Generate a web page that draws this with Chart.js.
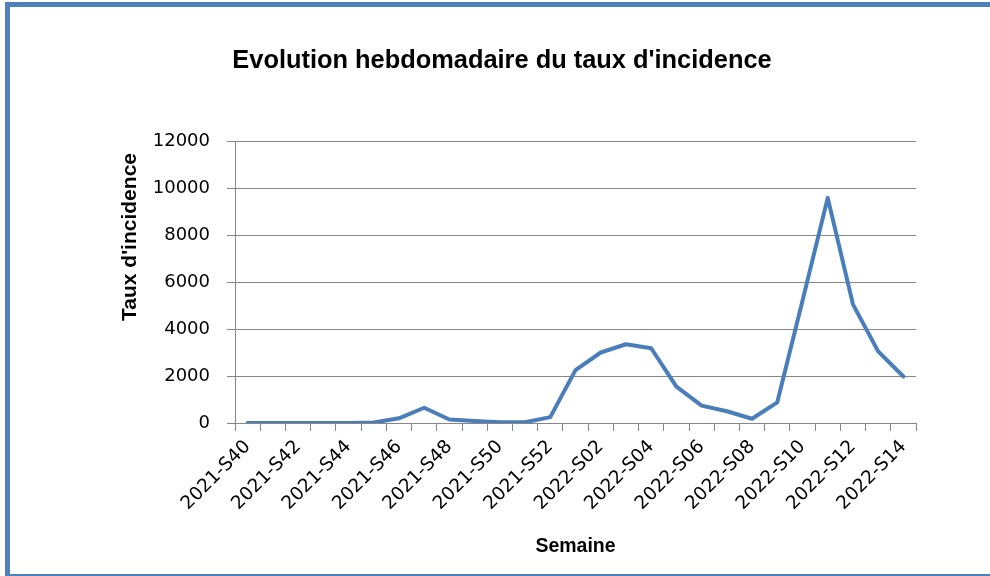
<!DOCTYPE html>
<html>
<head>
<meta charset="utf-8">
<script src="https://cdn.jsdelivr.net/npm/chart.js@4.4.1/dist/chart.umd.min.js"></script>
<style>
    html, body { margin: 0; padding: 0; background: #fff; }
    #wrap { position: relative; width: 990px; height: 576px; overflow: hidden; }
    #frame {
        position: absolute; left: 5px; top: 2px; width: 1000px; height: 567px;
        border-left: 5px solid #4f81bd; border-top: 5px solid #4f81bd; border-bottom: 2px solid #4f81bd;
        pointer-events: none;
    }
    canvas { position: absolute; left: 0; top: 0; }
</style>
</head>
<body>
<div id="wrap">
    <canvas id="chart" width="990" height="576"></canvas>
    <div id="frame"></div>
</div>
<script>
const weeks = [
    '2021-S40', '2021-S41', '2021-S42', '2021-S43', '2021-S44', '2021-S45', '2021-S46',
    '2021-S47', '2021-S48', '2021-S49', '2021-S50', '2021-S51', '2021-S52',
    '2022-S01', '2022-S02', '2022-S03', '2022-S04', '2022-S05', '2022-S06', '2022-S07',
    '2022-S08', '2022-S09', '2022-S10', '2022-S11', '2022-S12', '2022-S13', '2022-S14'
];
const incidence = [
    0, 0, 0, 0, 0, 20, 200,
    650, 150, 85, 30, 30, 250,
    2250, 3000, 3350, 3180, 1550, 740, 500,
    180, 880, 5200, 9580, 5050, 3050, 1980
];
const yTicks = [0, 2000, 4000, 6000, 8000, 10000, 12000];

const chartTitle = "Evolution hebdomadaire du taux d'incidence";
const yTitle = "Taux d'incidence";
const xTitle = 'Semaine';

const gridColor = '#868686';
const lineColor = '#4a7ebb';

// title and rotated y title are placed by hand, like the original
const textPlugin = {
    id: 'texts',
    afterDraw(chart) {
        const ctx = chart.ctx;
        const area = chart.chartArea;
        ctx.save();
        ctx.fillStyle = '#000';
        ctx.textAlign = 'center';
        ctx.textBaseline = 'alphabetic';
        ctx.font = 'bold 25.4px "Liberation Sans"';
        ctx.fillText(chartTitle, 502, 68);

        ctx.translate(136, area.top + 96);
        ctx.rotate(-Math.PI / 2);
        ctx.font = 'bold 21px "Liberation Sans"';
        ctx.fillText(yTitle, 0, 0);
        ctx.restore();
    }
};

new Chart(document.getElementById('chart'), {
    type: 'line',
    data: {
        labels: weeks,
        datasets: [{
            data: incidence,
            borderColor: lineColor,
            borderWidth: 4,
            borderJoinStyle: 'round',
            borderCapStyle: 'round',
            pointRadius: 0,
            tension: 0,
            fill: false
        }]
    },
    options: {
        responsive: false,
        animation: false,
        layout: { padding: { left: 0, top: 141, right: 74, bottom: 0 } },
        plugins: {
            legend: { display: false },
            tooltip: { enabled: false },
            title: { display: false }
        },
        scales: {
            x: {
                offset: true,
                grid: { display: true, drawOnChartArea: false, offset: true, tickLength: 8, color: gridColor },
                border: { display: true, color: gridColor },
                ticks: {
                    autoSkip: false,
                    maxRotation: 45,
                    minRotation: 45,
                    padding: 5,
                    color: '#000',
                    font: { family: '"DejaVu Sans"', size: 18.5 },
                    callback: (v, i) => (i % 2 === 0 ? weeks[i] : '')
                },
                title: {
                    display: true,
                    text: xTitle,
                    color: '#000',
                    font: { family: '"Liberation Sans"', size: 19.5, weight: 'bold' },
                    padding: { top: 0, bottom: 18 }
                },
                afterFit: (scale) => { scale.height = 153; }
            },
            y: {
                min: 0,
                max: 12000,
                afterBuildTicks: (scale) => { scale.ticks = yTicks.map(v => ({ value: v })); },
                grid: { color: gridColor, tickLength: 8 },
                border: { display: true, color: gridColor },
                ticks: {
                    padding: 17,
                    color: '#000',
                    font: { family: '"DejaVu Sans"', size: 18 },
                    callback: (v) => String(v)
                },
                afterFit: (scale) => { scale.width = 235; }
            }
        }
    },
    plugins: [textPlugin]
});
</script>
</body>
</html>
